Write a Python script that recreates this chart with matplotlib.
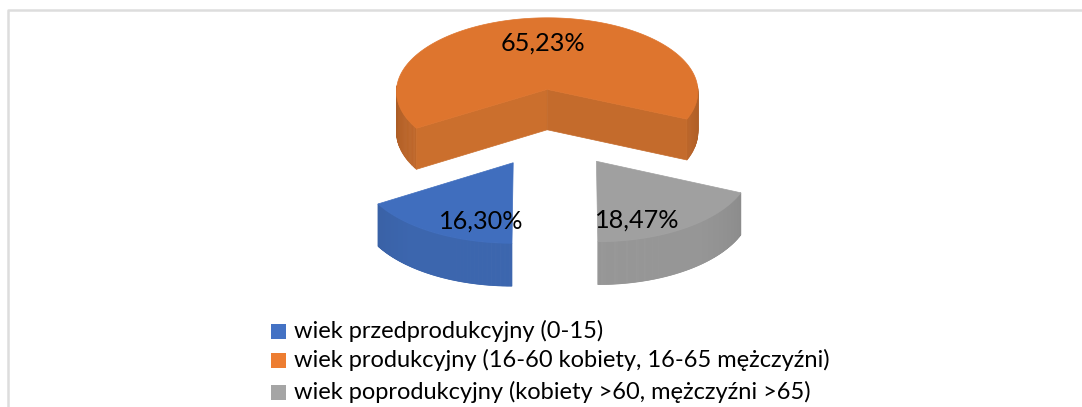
import numpy as np
import matplotlib
matplotlib.use("Agg")
import matplotlib.pyplot as plt
from matplotlib.patches import Polygon, Rectangle

# data
categories = ["wiek przedprodukcyjny (0-15)",
              "wiek produkcyjny (16-60 kobiety, 16-65 mężczyźni)",
              "wiek poprodukcyjny (kobiety >60, mężczyźni >65)"]
values = [16.30, 65.23, 18.47]
first_angle = 180  # first slice starts at 6 o'clock, clockwise

# colours
legend_colors = ["#4472C4", "#ED7D31", "#A5A5A5"]
top_colors = ["#406EBE", "#DE752E", "#A0A0A0"]
side_colors = ["#3C66AE", "#C86C2C", "#969696"]
wall_colors = [None, ("#CB6F2D", "#C46B2C"), None]

# projection of the pie plane to pixels
cx, cy = 552.5, 128
rx, ry = 153, 76
persp = 0.03
explode = 0.517
depth = 41

label_pos = [(481, 221), (543, 43), (637, 220)]
legend_y = [331, 360, 392]

plt.rcParams['font.family'] = ['Lato', 'DejaVu Sans']
fig = plt.figure(figsize=(10.82, 4.07), dpi=100)
ax = fig.add_axes([0, 0, 1, 1])
ax.set_xlim(0, 1082)
ax.set_ylim(407, 0)
ax.axis("off")


def project(u, v, down=0.0):
    w = 1 + persp * v
    return np.column_stack([cx + rx * u / w, cy - ry * v / w + down / w])


# frame of the chart area, only left and top show
ax.plot([8, 8, 1082], [407, 10, 10], color="#DDDDDD", lw=1.8, zorder=1)

start = first_angle
for i, val in enumerate(values):
    sweep = val / sum(values) * 360
    t = np.radians(np.linspace(start, start + sweep, 200))
    mid = np.radians(start + sweep / 2)
    ou, ov = explode * np.sin(mid), explode * np.cos(mid)
    au, av = ou + np.sin(t), ov + np.cos(t)

    # outer wall, shaded strip by strip
    for j in range(len(t) - 1):
        if np.cos(t[j]) > 0.05:
            continue
        su, sv = au[j:j + 2], av[j:j + 2]
        up = project(su, sv)
        lo = project(su, sv, depth)
        shade = 0.86 + 0.14 * min(1, -np.cos(t[j]) * 1.3)
        col = np.array(matplotlib.colors.to_rgb(side_colors[i])) * shade
        ax.add_patch(Polygon(np.vstack([up, lo[::-1]]), fc=col, ec=col, lw=0.5, zorder=3))

    # cut walls that face the viewer
    if wall_colors[i] is not None:
        for k, end in enumerate([0, -1]):
            eu, ev = np.array([ou, au[end]]), np.array([ov, av[end]])
            up = project(eu, ev)
            lo = project(eu, ev, depth)
            ax.add_patch(Polygon(np.vstack([up, lo[::-1]]), fc=wall_colors[i][k],
                                 ec=wall_colors[i][k], lw=0.5, zorder=4))

    # top face
    top = project(np.r_[ou, au], np.r_[ov, av])
    ax.add_patch(Polygon(top, fc=top_colors[i], ec=top_colors[i], lw=0.5, zorder=5))

    ax.text(label_pos[i][0], label_pos[i][1], f"{val:.2f}%".replace(".", ","),
            fontsize=18.2, color="black", ha="center", va="center", zorder=6)
    start += sweep

# legend
for name, col, y in zip(categories, legend_colors, legend_y):
    ax.add_patch(Rectangle((271, y - 7), 15, 15, fc=col, ec="none"))
    ax.text(294, y, name, fontsize=17, color="black", ha="left", va="center")

fig.savefig("out.png", dpi=100)
